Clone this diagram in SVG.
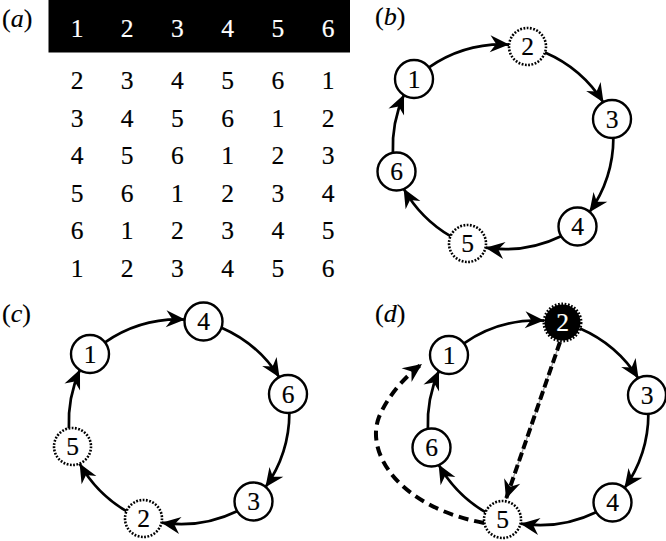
<svg xmlns="http://www.w3.org/2000/svg" width="666" height="541" viewBox="0 0 666 541">
<defs>
<style>
.edge{fill:none;stroke:#000;stroke-width:2.7;marker-end:url(#ah)}
.node{fill:#fff;stroke:#000;stroke-width:2.4}
.dot{fill:#fff;stroke:#000;stroke-width:2.6;stroke-dasharray:1.8 1.5}
.blk{fill:#000;stroke:#000;stroke-width:4;stroke-dasharray:1.6 1.6}
.num{font-family:"Liberation Serif","Times New Roman",serif;font-size:25.5px;text-anchor:middle;fill:#000;stroke:#000;stroke-width:0.2}
.lbl{font-family:"Liberation Serif","Times New Roman",serif;font-size:26px;fill:#000;stroke:#000;stroke-width:0.15}
.hd{fill:#fff;stroke:#fff}
.guide{fill:none;stroke:#999;stroke-width:1.2}
.dash{fill:none;stroke:#000;stroke-width:4;stroke-dasharray:9 4;marker-end:url(#ah)}
.dcurve{fill:none;stroke:#000;stroke-width:4;stroke-dasharray:10 6;marker-end:url(#ah)}
</style>
<marker id="ah" markerUnits="userSpaceOnUse" viewBox="-22 -11 24 22" markerWidth="24" markerHeight="22" refX="0" refY="0" orient="auto" overflow="visible">
<path d="M0,0 L-19,-8.5 L-13,0 L-19,8.5 Z" fill="#000" stroke="none"/>
</marker>
</defs>
<rect width="666" height="541" fill="#fff"/>

<!-- Panel a -->
<g id="panel-a">
<text class="lbl" x="2" y="27">(<tspan font-style="italic">a</tspan>)</text>
<rect x="48.5" y="0" width="301.5" height="52.5" fill="#000"/>
<g class="num">
<text class="num hd" x="77" y="36.5">1</text><text class="num hd" x="127.2" y="36.5">2</text><text class="num hd" x="177.4" y="36.5">3</text><text class="num hd" x="227.6" y="36.5">4</text><text class="num hd" x="277.8" y="36.5">5</text><text class="num hd" x="328" y="36.5">6</text>
<text x="77" y="89">2</text><text x="127.2" y="89">3</text><text x="177.4" y="89">4</text><text x="227.6" y="89">5</text><text x="277.8" y="89">6</text><text x="328" y="89">1</text>
<text x="77" y="126.6">3</text><text x="127.2" y="126.6">4</text><text x="177.4" y="126.6">5</text><text x="227.6" y="126.6">6</text><text x="277.8" y="126.6">1</text><text x="328" y="126.6">2</text>
<text x="77" y="164.2">4</text><text x="127.2" y="164.2">5</text><text x="177.4" y="164.2">6</text><text x="227.6" y="164.2">1</text><text x="277.8" y="164.2">2</text><text x="328" y="164.2">3</text>
<text x="77" y="201.8">5</text><text x="127.2" y="201.8">6</text><text x="177.4" y="201.8">1</text><text x="227.6" y="201.8">2</text><text x="277.8" y="201.8">3</text><text x="328" y="201.8">4</text>
<text x="77" y="239.4">6</text><text x="127.2" y="239.4">1</text><text x="177.4" y="239.4">2</text><text x="227.6" y="239.4">3</text><text x="277.8" y="239.4">4</text><text x="328" y="239.4">5</text>
<text x="77" y="277">1</text><text x="127.2" y="277">2</text><text x="177.4" y="277">3</text><text x="227.6" y="277">4</text><text x="277.8" y="277">5</text><text x="328" y="277">6</text>
</g>
</g>

<!-- Panel b -->
<text class="lbl" x="375" y="25">(<tspan font-style="italic">b</tspan>)</text>
<g id="panel-b" transform="translate(324,-275)">
<g id="b-connectors">
<path class="edge" d="M104.6,342.6 A130,130 0 0 1 185.1,319.6"/>
<path class="edge" d="M221,327.4 A130,130 0 0 1 279.5,377.6"/>
<path class="edge" d="M289.4,412.5 A130,130 0 0 1 265.4,487.3"/>
<path class="edge" d="M237.6,511 A130,130 0 0 1 161.5,522.7"/>
<path class="edge" d="M126.5,511.2 A130,130 0 0 1 79.6,463.6"/>
<path class="edge" d="M68.9,428.4 A130,130 0 0 1 80,369.6"/>
</g>
<g id="b-n1"><circle class="node" cx="90" cy="354" r="19"/><text class="num" x="90" y="362.5">1</text></g>
<g id="b-n2"><circle class="dot" cx="203.5" cy="321.5" r="18.5"/><text class="num" x="203.5" y="330">2</text></g>
<g id="b-n3"><circle class="node" cx="288" cy="394" r="19"/><text class="num" x="288" y="402.5">3</text></g>
<g id="b-n4"><circle class="node" cx="253.5" cy="501.5" r="19"/><text class="num" x="253.5" y="510">4</text></g>
<g id="b-n5"><circle class="dot" cx="143.5" cy="518.5" r="18.5"/><text class="num" x="143.5" y="527">5</text></g>
<g id="b-n6"><circle class="node" cx="72.5" cy="446.5" r="19"/><text class="num" x="72.5" y="455">6</text></g>
</g>

<!-- Panel c -->
<text class="lbl" x="2" y="322">(<tspan font-style="italic">c</tspan>)</text>
<g id="panel-c">
<g id="c-connectors">
<path class="edge" d="M104.6,342.6 A130,130 0 0 1 185.1,319.6"/>
<path class="edge" d="M221,327.4 A130,130 0 0 1 279.5,377.6"/>
<path class="edge" d="M289.4,412.5 A130,130 0 0 1 265.4,487.3"/>
<path class="edge" d="M237.6,511 A130,130 0 0 1 161.5,522.7"/>
<path class="edge" d="M126.5,511.2 A130,130 0 0 1 79.6,463.6"/>
<path class="edge" d="M68.9,428.4 A130,130 0 0 1 80,369.6"/>
</g>
<g id="c-n1"><circle class="node" cx="90" cy="354" r="19"/><text class="num" x="90" y="362.5">1</text></g>
<g id="c-n4"><circle class="node" cx="203.5" cy="321.5" r="19"/><text class="num" x="203.5" y="330">4</text></g>
<g id="c-n6"><circle class="node" cx="288" cy="394" r="19"/><text class="num" x="288" y="402.5">6</text></g>
<g id="c-n3"><circle class="node" cx="253.5" cy="501.5" r="19"/><text class="num" x="253.5" y="510">3</text></g>
<g id="c-n2"><circle class="dot" cx="143.5" cy="518.5" r="18.5"/><text class="num" x="143.5" y="527">2</text></g>
<g id="c-n5"><circle class="dot" cx="72.5" cy="446.5" r="18.5"/><text class="num" x="72.5" y="455">5</text></g>
</g>

<!-- Panel d -->
<text class="lbl" x="375" y="322">(<tspan font-style="italic">d</tspan>)</text>
<g id="panel-d" transform="translate(359,1)">
<g id="d-connectors">
<path class="edge" d="M104.6,342.6 A130,130 0 0 1 185.1,319.6"/>
<path class="edge" d="M221,327.4 A130,130 0 0 1 279.5,377.6"/>
<path class="edge" d="M289.4,412.5 A130,130 0 0 1 265.4,487.3"/>
<path class="edge" d="M237.6,511 A130,130 0 0 1 161.5,522.7"/>
<path class="edge" d="M126.5,511.2 A130,130 0 0 1 79.6,463.6"/>
<path class="edge" d="M68.9,428.4 A130,130 0 0 1 80,369.6"/>
<path class="guide" d="M201,341 L147,498"/>
<path class="dash" d="M201,341 L147,498"/>
<path class="dcurve" d="M125,522 C40,506 6,452 20,416 C28,396.5 45,376 63,363"/>
</g>
<g id="d-n1"><circle class="node" cx="90" cy="354" r="19"/><text class="num" x="90" y="362.5">1</text></g>
<g id="d-n2"><circle class="blk" cx="203.5" cy="321.5" r="18"/><text class="num hd" x="203.5" y="330">2</text></g>
<g id="d-n3"><circle class="node" cx="288" cy="394" r="19"/><text class="num" x="288" y="402.5">3</text></g>
<g id="d-n4"><circle class="node" cx="253.5" cy="501.5" r="19"/><text class="num" x="253.5" y="510">4</text></g>
<g id="d-n5"><circle class="dot" cx="143.5" cy="518.5" r="18.5"/><text class="num" x="143.5" y="527">5</text></g>
<g id="d-n6"><circle class="node" cx="72.5" cy="446.5" r="19"/><text class="num" x="72.5" y="455">6</text></g>
</g>
</svg>
